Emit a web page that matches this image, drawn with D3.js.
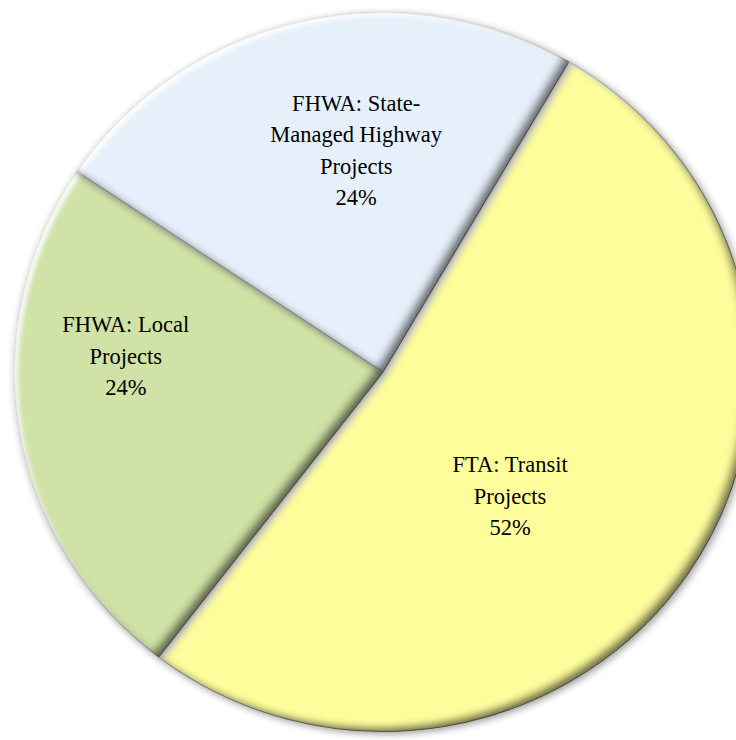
<!DOCTYPE html>
<html>
<head>
<meta charset="utf-8">
<script src="https://cdn.jsdelivr.net/npm/d3@7"></script>
<style>
  html, body { margin: 0; padding: 0; background: #fff; }
  svg { display: block; }
  .pie_label { font-family: "Liberation Serif", "DejaVu Serif", serif; font-size: 22.5px; fill: #000; }
</style>
</head>
<body>
<svg id="chart" width="736" height="740"></svg>
<script>
// slices, in drawing order (clockwise, starting at the top right)
const categories = ['FTA: Transit Projects', 'FHWA: Local Projects', 'FHWA: State-Managed Highway Projects'];
const shares = [52, 24, 24];
const labelLines = [
  ['FTA: Transit', 'Projects', '52%'],
  ['FHWA: Local', 'Projects', '24%'],
  ['FHWA: State-', 'Managed Highway', 'Projects', '24%']
];
const sliceColors = ['#fefd9c', '#d0e2a6', '#e6f0fb'];

class PieChart {
  constructor(svg_element_id) {
    this.svg = d3.select('#' + svg_element_id);
    const cx = 383, cy = 372, radius = 363;
    const startAngle = 30.3 * Math.PI / 180;

    const data = categories.map((c, i) => ({name: c, value: shares[i], lines: labelLines[i], color: sliceColors[i]}));

    const pie = d3.pie().value(d => d.value).sort(null)
                  .startAngle(startAngle).endAngle(startAngle + 2 * Math.PI);
    const arc = d3.arc().innerRadius(0).outerRadius(radius);
    const arcs = pie(data);

    const defs = this.svg.append('defs');

    // bevel: dark inner edge bottom/right, light inner edge top/left, soft outer shadow
    const f = defs.append('filter').attr('id', 'bevel')
                  .attr('x', '-10%').attr('y', '-10%').attr('width', '120%').attr('height', '120%');
    f.append('feGaussianBlur').attr('in', 'SourceAlpha').attr('stdDeviation', 4).attr('result', 'blur');
    f.append('feOffset').attr('in', 'blur').attr('dx', -6).attr('dy', -5).attr('result', 'offDark');
    f.append('feComposite').attr('in', 'SourceAlpha').attr('in2', 'offDark').attr('operator', 'out').attr('result', 'darkMask');
    f.append('feFlood').attr('flood-color', '#2e2e28').attr('flood-opacity', 0.85).attr('result', 'darkCol');
    f.append('feComposite').attr('in', 'darkCol').attr('in2', 'darkMask').attr('operator', 'in').attr('result', 'darkEdge');
    f.append('feGaussianBlur').attr('in', 'SourceAlpha').attr('stdDeviation', 2).attr('result', 'blurS');
    f.append('feOffset').attr('in', 'blurS').attr('dx', 4).attr('dy', 4).attr('result', 'offLight');
    f.append('feComposite').attr('in', 'SourceAlpha').attr('in2', 'offLight').attr('operator', 'out').attr('result', 'lightMask');
    f.append('feFlood').attr('flood-color', '#ffffff').attr('flood-opacity', 0.85).attr('result', 'lightCol');
    f.append('feComposite').attr('in', 'lightCol').attr('in2', 'lightMask').attr('operator', 'in').attr('result', 'lightEdge');
    f.append('feOffset').attr('in', 'blur').attr('dx', 2).attr('dy', 2).attr('result', 'dropOff');
    f.append('feFlood').attr('flood-color', '#000').attr('flood-opacity', 0.4).attr('result', 'dropCol');
    f.append('feComposite').attr('in', 'dropCol').attr('in2', 'dropOff').attr('operator', 'in').attr('result', 'drop');
    const merge = f.append('feMerge');
    merge.append('feMergeNode').attr('in', 'drop');
    merge.append('feMergeNode').attr('in', 'SourceGraphic');
    merge.append('feMergeNode').attr('in', 'lightEdge');
    merge.append('feMergeNode').attr('in', 'darkEdge');

    // the original pie is very slightly wider than tall
    const g = this.svg.append('g').attr('transform', `translate(${cx}, ${cy}) scale(1.015, 0.99)`);

    g.selectAll('path.slice')
     .data(arcs)
     .join('path')
       .classed('slice', true)
       .attr('d', arc)
       .attr('fill', d => d.data.color)
       .attr('stroke', '#8a8a8a')
       .attr('stroke-width', 1)
       .attr('filter', 'url(#bevel)');

    // label placement (radius as fraction of pie radius, angle nudge in degrees) - matches the original's best-fit spots
    const labelPlace = [
      {r: 0.49, nudge: 10.5},
      {r: 0.71, nudge: 12.8},
      {r: 0.615, nudge: 6.0}
    ];
    const lineH = 31.5;

    const labels = this.svg.append('g').attr('transform', `translate(${cx}, ${cy})`)
      .selectAll('g.label')
      .data(arcs)
      .join('g')
        .classed('label', true)
        .attr('transform', (d, i) => {
          const a = (d.startAngle + d.endAngle) / 2 + labelPlace[i].nudge * Math.PI / 180;
          const rr = radius * labelPlace[i].r;
          return `translate(${rr * Math.sin(a)}, ${-rr * Math.cos(a)})`;
        });

    labels.each(function(d) {
      const n = d.data.lines.length;
      d3.select(this).selectAll('text')
        .data(d.data.lines)
        .join('text')
          .classed('pie_label', true)
          .attr('text-anchor', 'middle')
          .attr('dominant-baseline', 'central')
          .attr('y', (t, k) => (k - (n - 1) / 2) * lineH)
          .text(t => t);
    });
  }
}

new PieChart('chart');
</script>
</body>
</html>
